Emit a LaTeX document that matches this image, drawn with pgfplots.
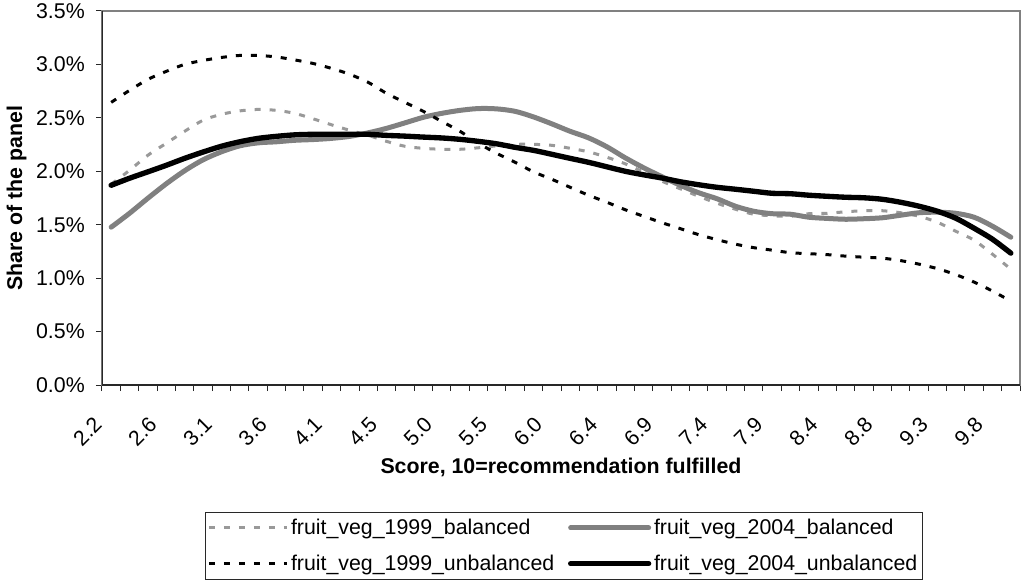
\documentclass[border=0pt]{standalone}
\usepackage{fontspec}
\setmainfont{Liberation Sans}
\usepackage{pgfplots}
\usepackage{pgfplotstable}
\pgfplotsset{compat=1.18}
\definecolor{ltgray}{RGB}{153,153,153}
\definecolor{mdgray}{RGB}{128,128,128}
\definecolor{axdark}{RGB}{40,40,40}
\definecolor{frame}{RGB}{128,128,128}

% share of panel (%) per score category, 50 categories
\pgfplotstableread{
i  b99    b04    u99    u04
0  1.879  1.477  2.645  1.869
1  2.009  1.607  2.757  1.935
2  2.150  1.748  2.860  1.995
3  2.262  1.883  2.935  2.056
4  2.374  2.005  3.000  2.121
5  2.477  2.107  3.037  2.180
6  2.533  2.182  3.065  2.234
7  2.565  2.238  3.084  2.276
8  2.579  2.266  3.084  2.308
9  2.570  2.276  3.070  2.327
10 2.542  2.290  3.042  2.341
11 2.491  2.297  3.009  2.346
12 2.435  2.308  2.963  2.346
13 2.383  2.327  2.907  2.346
14 2.336  2.360  2.832  2.346
15 2.280  2.402  2.729  2.336
16 2.234  2.453  2.645  2.329
17 2.215  2.505  2.561  2.320
18 2.206  2.542  2.467  2.312
19 2.206  2.570  2.374  2.299
20 2.220  2.587  2.262  2.280
21 2.238  2.584  2.168  2.257
22 2.252  2.561  2.084  2.224
23 2.252  2.509  1.995  2.196
24 2.243  2.444  1.925  2.159
25 2.215  2.374  1.850  2.121
26 2.182  2.313  1.776  2.084
27 2.131  2.229  1.710  2.042
28 2.070  2.126  1.640  2.000
29 1.991  2.033  1.579  1.967
30 1.907  1.949  1.519  1.937
31 1.836  1.869  1.463  1.902
32 1.766  1.799  1.407  1.874
33 1.701  1.743  1.360  1.850
34 1.645  1.673  1.318  1.832
35 1.598  1.626  1.285  1.813
36 1.584  1.603  1.262  1.794
37 1.579  1.598  1.238  1.790
38 1.603  1.570  1.229  1.776
39 1.607  1.559  1.220  1.766
40 1.621  1.551  1.206  1.757
41 1.631  1.556  1.196  1.752
42 1.631  1.565  1.187  1.738
43 1.612  1.589  1.164  1.710
44 1.579  1.612  1.131  1.673
45 1.523  1.617  1.089  1.626
46 1.439  1.607  1.033  1.561
47 1.355  1.570  0.963  1.467
48 1.224  1.486  0.879  1.364
49 1.084  1.383  0.785  1.234
}\panel

\begin{document}
\begin{tikzpicture}[font=\fontsize{16}{19}\selectfont]
\useasboundingbox (-76.5pt,-150pt) rectangle (690.75pt,288.75pt);
\begin{axis}[
  scale only axis, width=688.5pt, height=280.5pt,
  xmin=-0.5, xmax=49.5, ymin=0, ymax=3.5,
  axis line style={draw=frame, line width=1.5pt},
  xtick pos=bottom, ytick pos=left, tick align=outside,
  xtick={0,3,...,48},
  xticklabels={2.2,2.6,3.1,3.6,4.1,4.5,5.0,5.5,6.0,6.4,6.9,7.4,7.9,8.4,8.8,9.3,9.8},
  minor xtick={-0.5,0.5,...,49.5},
  ytick={0,0.5,...,3.5},
  minor ytick={0,0.5,...,3.5},
  yticklabels={0.0\%,0.5\%,1.0\%,1.5\%,2.0\%,2.5\%,3.0\%,3.5\%},
  major tick length=0pt, minor tick length=4.5pt,
  tick style={axdark, line width=0.75pt},
  xticklabel style={xshift=-6pt, yshift=-30.75pt, rotate=45, anchor=base east, inner sep=0pt},
  yticklabel style={xshift=-12.75pt, anchor=east, inner sep=0pt},
  xlabel={Score, 10=recommendation fulfilled},
  ylabel={Share of the panel},
  xlabel style={at={(axis description cs:0.5,-0.2353)}, anchor=base, font=\fontsize{16}{19}\selectfont\bfseries},
  ylabel style={at={(axis description cs:-0.0871,0.5)}, anchor=base, font=\fontsize{16}{19}\selectfont\bfseries},
  legend columns=2,
  legend style={at={(axis description cs:0.5,-0.3396)}, anchor=north, xshift=2pt, draw=axdark, line width=0.75pt,
    inner xsep=1.5pt, inner ysep=3pt, font=\fontsize{16}{19}\selectfont,
    /tikz/every even column/.append style={column sep=8.25pt}, row sep=9.75pt},
  legend cell align=left,
  legend image code/.code={\draw[#1] (0pt,0pt) -- (58.5pt,0pt);},
]
\addplot[ltgray, line width=2.25pt, dash pattern=on 4.5pt off 6.75pt, smooth] table[x=i, y=b99] {\panel};
\addplot[mdgray, line width=3.75pt, line cap=round, smooth] table[x=i, y=b04] {\panel};
\addplot[black, line width=2.25pt, dash pattern=on 4.5pt off 6.75pt, smooth] table[x=i, y=u99] {\panel};
\addplot[black, line width=4pt, line cap=round, smooth] table[x=i, y=u04] {\panel};
\draw[axdark, line width=1.5pt] (rel axis cs:0,1) -- (rel axis cs:0,0) -- (rel axis cs:1,0);
\legend{fruit\_veg\_1999\_balanced, fruit\_veg\_2004\_balanced, fruit\_veg\_1999\_unbalanced, fruit\_veg\_2004\_unbalanced}
\end{axis}
\end{tikzpicture}
\end{document}
